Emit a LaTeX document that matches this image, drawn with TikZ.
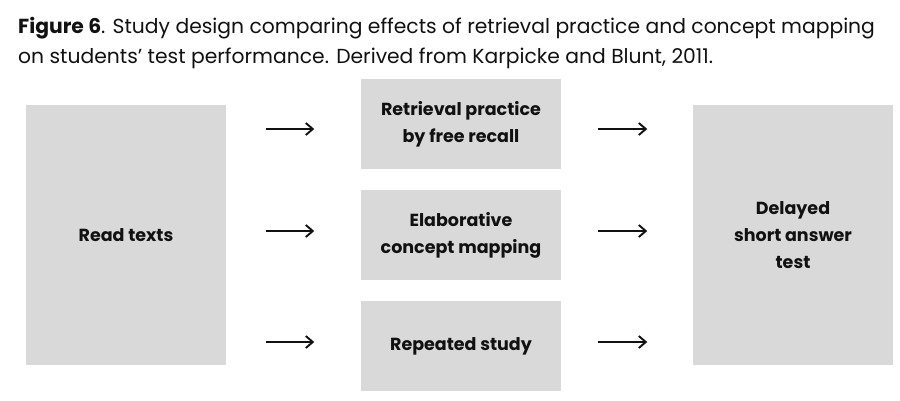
\documentclass[tikz,border=0pt]{standalone}
\usepackage{fontspec}
\setmainfont{Poppins}
\usetikzlibrary{arrows.meta,calc}
\definecolor{boxgray}{HTML}{D9D9D9}
\definecolor{ink}{HTML}{111111}
\begin{document}
\begin{tikzpicture}[x=1pt,y=-1pt,
  box/.style={draw=white,line width=1.5pt,fill=boxgray,inner sep=0pt,
    minimum width=202pt,align=center,text=ink,
    font=\fontsize{17.5}{27}\selectfont\bfseries},
  tall/.style={box,minimum height=262pt},
  short/.style={box,minimum height=92pt},
  arr/.style={draw=ink,line width=1.9pt,-{Straight Barb[length=7pt,width=12pt]}},
  ttl/.style={anchor=base west,inner sep=0pt,text=ink,font=\fontsize{20.3}{30}\selectfont}]
\useasboundingbox[fill=white] (0,0) rectangle (900,400);
\node[ttl] (t1) at (18,33) {\textbf{Figure 6}. Study design comparing effects of retrieval practice and concept mapping};
\node[ttl] (t2) at (18,63) {on students’ test performance. Derived from Karpicke and Blunt, 2011.};
\node[tall] (read) at (126,235) {Read texts};
\node[short] (r1) at (461,124) {Retrieval practice\\by free recall};
\node[short] (r2) at (461,235) {Elaborative\\concept mapping};
\node[short] (r3) at (461,346) {Repeated study};
\node[tall] (test) at (793,235) {Delayed\\short answer\\test};
\foreach \n/\dy in {r1/5,r2/-4,r3/-4}{
  \draw[arr] ($(read.east|-\n.west)+(38,\dy)$) -- ($(\n.west)+(-45,\dy)$);
  \draw[arr] ($(\n.east)+(35,\dy)$) -- ($(test.west|-\n.west)+(-44,\dy)$);
}
\end{tikzpicture}
\end{document}
